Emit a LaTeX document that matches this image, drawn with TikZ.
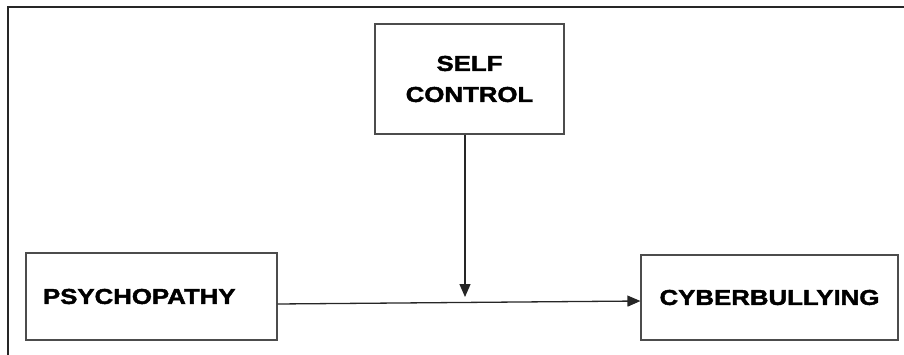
\documentclass[tikz,border=0pt]{standalone}
\usepackage{fontspec}
\newfontfamily\boxfont[FakeStretch=1.2,FakeBold=2]{Liberation Sans Bold}
\usetikzlibrary{arrows.meta}
\begin{document}
\begin{tikzpicture}[x=1pt,y=-1pt,
  box/.style={draw=black!70, line width=1.1pt, rectangle, inner sep=0pt,
    font=\boxfont\fontsize{21.5}{31}\selectfont},
  arr/.style={draw=black!85, line width=1.3pt, -{Triangle[length=13pt,width=11pt]}},
  frame/.style={draw=black!85, line width=1.6pt}]
  \useasboundingbox (0,0) rectangle (904,355);
  \draw[frame] (8,356) -- (8,7) -- (905,7);
  \node[box, minimum width=189pt, minimum height=110pt, align=center] (self) at (469.5,79) {SELF\\CONTROL};
  \node[box, minimum width=251pt, minimum height=87pt, text width=217pt, inner xsep=17pt, align=left] (psy) at (151.5,296.5) {PSYCHOPATHY};
  \node[box, minimum width=257pt, minimum height=85pt, align=center] (cyb) at (769.5,297.5) {CYBERBULLYING};
  \coordinate (join) at (465,297);
  \draw[arr] ([xshift=-4.5pt]self.south) -- (join);
  \draw[arr] ([yshift=-7.5pt]psy.east) -- ([yshift=-3.5pt]cyb.west);
\end{tikzpicture}
\end{document}
